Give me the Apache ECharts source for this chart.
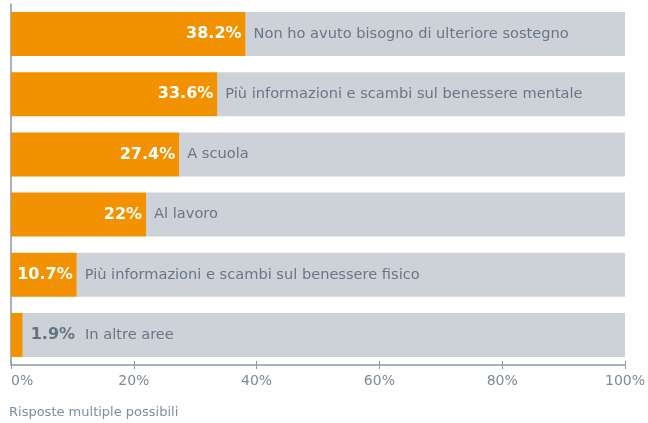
<!DOCTYPE html>
<html lang="it">
<head>
  <meta charset="UTF-8">
  <title>Sostegno</title>
  <script src="https://cdn.jsdelivr.net/npm/echarts@6/dist/echarts.min.js"></script>
</head>
<body style="margin:0">
<div id="chart" style="width:648px;height:423px"></div>
<script>
  // data
  const categories = [
    'Non ho avuto bisogno di ulteriore sostegno',
    'Più informazioni e scambi sul benessere mentale',
    'A scuola',
    'Al lavoro',
    'Più informazioni e scambi sul benessere fisico',
    'In altre aree'
  ];
  const values = [38.2, 33.6, 27.4, 22, 10.7, 1.9];
  const tickLabels = ['0%', '20%', '40%', '60%', '80%', '100%'];

  const font = '"DejaVu Sans", "Open Sans", sans-serif';
  const axisColor = '#8d99a6';
  const textGrey = '#687786';

  let chart = echarts.init(document.getElementById('chart'));

  // orange part, with the percentage inside the bar end (outside when too short)
  let orangeData = values.map(function (v) {
    let item = { value: v };
    if (v < 5) item.label = { show: false };
    return item;
  });

  // grey remainder up to 100, carries the category text
  let greyData = values.map(function (v, i) {
    let item = { value: 100 - v };
    if (v < 5) {
      item.label = {
        formatter: '{p|' + v + '%}{n|' + categories[i] + '}',
        distance: 8
      };
    }
    return item;
  });

  let option = {
    animation: false,
    textStyle: { fontFamily: font },
    title: {
      text: 'Risposte multiple possibili',
      left: 4,
      top: 401,
      textStyle: { fontSize: 13, fontWeight: 'normal', color: '#7b8ea3', fontFamily: font }
    },
    grid: { left: 11, right: 22, top: 4, bottom: 58, containLabel: false },
    xAxis: [{
      type: 'value',
      position: 'bottom',
      min: 0,
      max: 100,
      interval: 20,
      splitLine: { show: false },
      axisLine: { show: true, lineStyle: { color: axisColor, width: 1.5 } },
      axisTick: { show: true, length: 4, lineStyle: { color: axisColor } },
      axisLabel: {
        margin: 9,
        fontSize: 14,
        color: '#7d8a97',
        alignMinLabel: 'left',
        formatter: function (v) { return tickLabels[v / 20]; }
      }
    }, {
      type: 'value',
      position: 'bottom',
      min: 0,
      max: 100,
      interval: 20,
      splitLine: { show: false },
      axisLine: { show: false },
      axisTick: { show: true, inside: true, length: 4, lineStyle: { color: axisColor } },
      axisLabel: { show: false }
    }],
    yAxis: {
      type: 'category',
      inverse: true,
      data: categories,
      axisLine: { show: true, lineStyle: { color: axisColor, width: 1.5 } },
      axisTick: { show: false },
      axisLabel: { show: false }
    },
    series: [{
      type: 'bar',
      stack: 'total',
      barWidth: 44,
      data: orangeData,
      itemStyle: { color: '#f39200' },
      label: {
        show: true,
        position: 'insideRight',
        distance: 4,
        color: '#ffffff',
        fontSize: 16,
        fontWeight: 'bold',
        fontFamily: font,
        formatter: function (p) { return p.value + '%'; }
      },
      z: 3
    }, {
      type: 'bar',
      stack: 'total',
      barWidth: 44,
      data: greyData,
      itemStyle: { color: '#cdd1d8' },
      label: {
        show: true,
        position: 'insideLeft',
        distance: 8,
        color: textGrey,
        fontSize: 14.6,
        fontFamily: font,
        formatter: function (p) { return categories[p.dataIndex]; },
        rich: {
          p: { fontSize: 16, fontWeight: 'bold', color: '#657381', fontFamily: font, padding: [0, 10, 0, 0] },
          n: { fontSize: 14.6, color: textGrey, fontFamily: font }
        }
      },
      z: 2
    }]
  };
  chart.setOption(option);
</script>
</body>
</html>
